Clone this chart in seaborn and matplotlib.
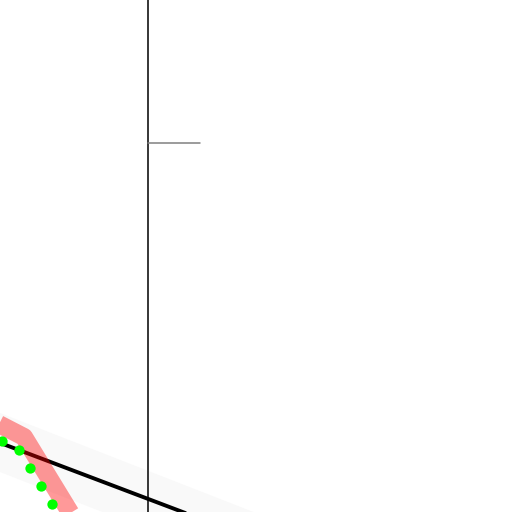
"""
Reconstruction d'une composition de lignes (vue rognée)
"""

import matplotlib
matplotlib.use("Agg")
import matplotlib.pyplot as plt
import seaborn as sns
import pandas as pd

# Données (coordonnées en pixels, y vers le bas)
bande_x = [0, 512]
bande_haut_y = [413, 613]
bande_bas_y = [472, 672]

ligne_noire_x = [-100, 600]
ligne_noire_y = [405, 670]

chemin_rose_x = [-40, 24, 90]
chemin_rose_y = [404, 437, 545]

points_verts_x = [2, 19, 30, 41, 52]
points_verts_y = [441, 450, 468, 486, 504]

verticale_x = [148, 148]
verticale_y = [-10, 522]

repere_x = [148, 200]
repere_y = [143, 143]


def main():
    sns.set_style("white")
    fig = plt.figure(figsize=(5.12, 5.12), dpi=100)
    ax = fig.add_axes([0, 0, 1, 1])

    # Bande grise large
    ax.fill_between(bande_x, bande_haut_y, bande_bas_y, color="#f9f9f9",
                    linewidth=0, zorder=1)

    # Ligne noire
    sns.lineplot(x=ligne_noire_x, y=ligne_noire_y, ax=ax, color="black",
                 linewidth=2.8, sort=False, estimator=None, clip_on=False, zorder=2)

    # Chemin rose (rouge transparent)
    df_rose = pd.DataFrame({"x": chemin_rose_x, "y": chemin_rose_y})
    sns.lineplot(data=df_rose, x="x", y="y", ax=ax, color="red", alpha=0.4,
                 linewidth=13, sort=False, estimator=None, solid_joinstyle="round",
                 solid_capstyle="butt", clip_on=False, zorder=3)

    # Points verts
    sns.scatterplot(x=points_verts_x, y=points_verts_y, ax=ax, color="#00ff00",
                    s=55, linewidth=0, zorder=5)

    # Verticale et petit repère
    sns.lineplot(x=verticale_x, y=verticale_y, ax=ax, color="black",
                 linewidth=1.1, sort=False, estimator=None, clip_on=False, zorder=4)
    sns.lineplot(x=repere_x, y=repere_y, ax=ax, color="#808080",
                 linewidth=1.1, sort=False, estimator=None, zorder=4)

    ax.set_xlim(0, 512)
    ax.set_ylim(512, 0)
    ax.axis("off")

    fig.savefig("out.png", dpi=100)
    plt.close(fig)


if __name__ == "__main__":
    main()
